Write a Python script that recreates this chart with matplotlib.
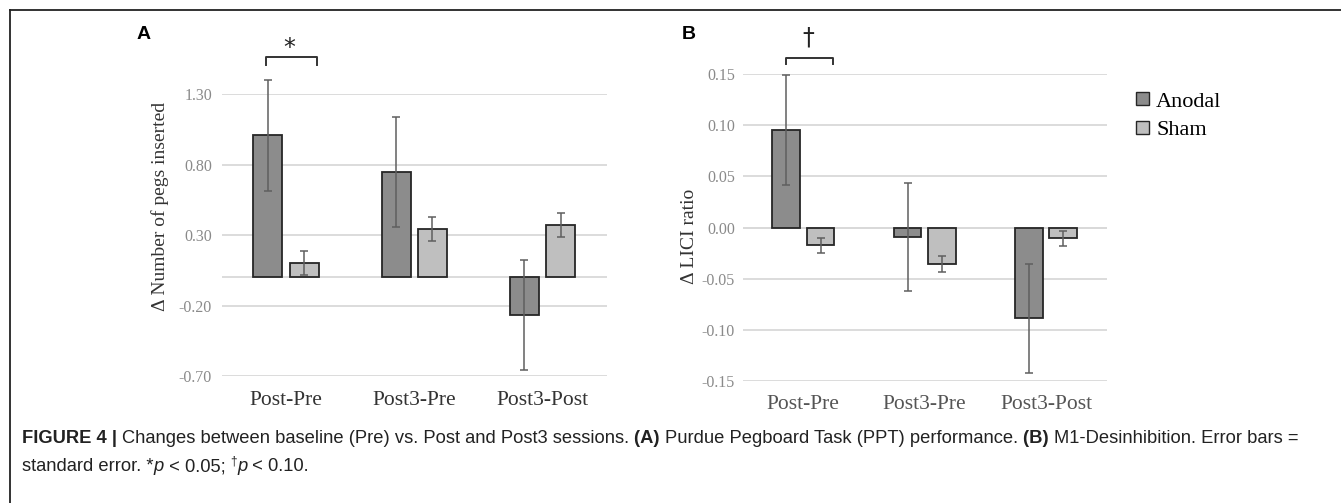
import matplotlib
matplotlib.use("Agg")
import matplotlib.pyplot as plt
from matplotlib.lines import Line2D
import numpy as np

# ---------------- data ----------------
categories = ["Post-Pre", "Post3-Pre", "Post3-Post"]
groups = ["Anodal", "Sham"]

pegs_anodal = [1.01, 0.75, -0.265]
pegs_anodal_se = [0.395, 0.39, 0.39]
pegs_sham = [0.105, 0.343, 0.373]
pegs_sham_se = [0.085, 0.087, 0.087]
pegs_ticks = [-0.70, -0.20, 0.30, 0.80, 1.30]

lici_anodal = [0.0955, -0.0095, -0.089]
lici_anodal_se = [0.054, 0.053, 0.053]
lici_sham = [-0.0175, -0.036, -0.0105]
lici_sham_se = [0.0072, 0.008, 0.0072]
lici_ticks = [-0.15, -0.10, -0.05, 0.00, 0.05, 0.10, 0.15]

W, H = 1341, 503
fig = plt.figure(figsize=(W / 100, H / 100), dpi=100)

SERIF = ["Liberation Serif", "DejaVu Serif"]
SANS = ["Liberation Sans", "DejaVu Sans"]
c_anodal = "#8c8c8c"
c_sham = "#bfbfbf"
grid_c = "#d9d9d9"


def px_axes(x0, x1, ytop, ybot):
    return fig.add_axes([x0 / W, 1 - ybot / H, (x1 - x0) / W, (ybot - ytop) / H])


def draw_panel(ax, a_vals, a_se, s_vals, s_se, ticks, ylim, fmt, tick_pad, x_pad, bw):
    x = np.arange(len(categories))
    off = 0.1415
    ax.set_xlim(-0.5, len(categories) - 0.5)
    ax.set_ylim(*ylim)
    for t in ticks:
        ax.axhline(t, color=grid_c, lw=1.3, zorder=0)
    ax.axhline(0, color=grid_c, lw=1.3, zorder=0)
    ekw = dict(ecolor="#5f5f5f", elinewidth=1.1, capsize=3, capthick=1.1)
    b1 = ax.bar(x - off, a_vals, width=bw, color=c_anodal, edgecolor="#262626",
                linewidth=1.3, yerr=a_se, error_kw=ekw, label=groups[0], zorder=2)
    b2 = ax.bar(x + off, s_vals, width=bw, color=c_sham, edgecolor="#262626",
                linewidth=1.3, yerr=s_se, error_kw=ekw, label=groups[1], zorder=2)
    for bc in (b1, b2):
        for art in bc.errorbar.lines[1] + bc.errorbar.lines[2]:
            art.set_clip_on(False)
    for s in ax.spines.values():
        s.set_visible(False)
    ax.set_yticks(ticks)
    ax.set_yticklabels([fmt(t) for t in ticks], fontfamily=SERIF, fontsize=11.5,
                       color="#8a8a8a")
    ax.tick_params(axis="y", length=0, pad=tick_pad)
    ax.set_xticks(x)
    ax.set_xticklabels(categories, fontfamily=SERIF, fontsize=15.5, color="#333333")
    ax.tick_params(axis="x", length=0, pad=x_pad)
    return b1, b2


# Panel A
axA = px_axes(221.7, 606.7, 94.3, 376.0)
draw_panel(axA, pegs_anodal, pegs_anodal_se, pegs_sham, pegs_sham_se, pegs_ticks,
           (-0.70, 1.30), lambda t: f"{t:.2f}", 7, 11, 0.226)

# Panel B
axB = px_axes(742.7, 1106.7, 74.3, 380.7)
bA, bS = draw_panel(axB, lici_anodal, lici_anodal_se, lici_sham, lici_sham_se, lici_ticks,
                    (-0.15, 0.15), lambda t: f"{t:.2f}", 5.5, 10, 0.228)
for lab in axB.get_xticklabels():
    lab.set_color("#555555")

# y labels
fig.text(160 / W, 1 - 206.5 / H, "Δ Number of pegs inserted", rotation=90,
         ha="center", va="center", fontfamily=SERIF, fontsize=14, color="#333333")
fig.text(689 / W, 1 - 236 / H, "Δ LICI ratio", rotation=90,
         ha="center", va="center", fontfamily=SERIF, fontsize=14, color="#333333")

# significance brackets
def bracket(ax, x0, x1, ytop, ybot, sym, sx, sy, size):
    ax.add_line(Line2D([x0, x0, x1, x1], [ybot, ytop, ytop, ybot], color="#333333",
                       lw=1.4, clip_on=False))
    ax.text(sx, sy, sym, ha="center", va="center", fontsize=size,
            fontfamily=["DejaVu Sans"], color="#222222", clip_on=False)

bracket(axA, -0.155, 0.24, 1.565, 1.511, "*", 0.026, 1.63, 17)
bracket(axB, -0.143, 0.247, 0.1659, 0.1600, "†", 0.041, 0.1858, 17)

# panel letters
fig.text(137 / W, 1 - 34.5 / H, "A", ha="left", va="center", fontfamily=SANS,
         fontsize=14, fontweight="bold")
fig.text(682 / W, 1 - 34.5 / H, "B", ha="left", va="center", fontfamily=SANS,
         fontsize=14, fontweight="bold")

# legend
leg = fig.legend(handles=[bA, bS], labels=groups, loc="upper left",
                 bbox_to_anchor=(1136 / W, 1 - 92 / H), frameon=False,
                 prop={"family": SERIF, "size": 16}, handlelength=0.6,
                 handleheight=0.55, handletextpad=0.3, labelspacing=0.42,
                 borderpad=0, borderaxespad=0)
for h in leg.legend_handles:
    h.set_linewidth(1.0)

# frame lines (top and left)
fig.add_artist(Line2D([9.5 / W, 1], [1 - 10 / H, 1 - 10 / H], color="#222222", lw=1.3))
fig.add_artist(Line2D([9.5 / W, 9.5 / W], [0, 1 - 10 / H], color="#222222", lw=1.3))

# caption with mixed styles
renderer = fig.canvas.get_renderer()
CAP = 13.2


def write_line(segments, x_px, y_px):
    x = x_px
    for txt, kw in segments:
        props = dict(fontfamily=SANS, fontsize=CAP, color="#222222", ha="left",
                     va="baseline")
        dy = 0
        if kw.get("sup"):
            props["fontsize"] = CAP * 0.65
            dy = 6
        for k in ("fontweight", "fontstyle"):
            if k in kw:
                props[k] = kw[k]
        t = fig.text(x / W, 1 - (y_px - dy) / H, txt, **props)
        bb = t.get_window_extent(renderer=renderer)
        x += bb.width


B = {"fontweight": "bold"}
N = {}
I = {"fontstyle": "italic"}
line1 = [("FIGURE 4 | ", B), ("Changes between baseline (Pre) vs. Post and Post3 sessions. ", N),
         ("(A) ", B), ("Purdue Pegboard Task (PPT) performance. ", N), ("(B) ", B),
         ("M1-Desinhibition. Error bars =", N)]
line2 = [("standard error. *", N), ("p", I), (" < 0.05; ", N), ("†", {"sup": True}),
         ("p", I), (" < 0.10.", N)]
write_line(line1, 22, 443)
write_line(line2, 22, 471)

fig.savefig("out.png", dpi=100)
